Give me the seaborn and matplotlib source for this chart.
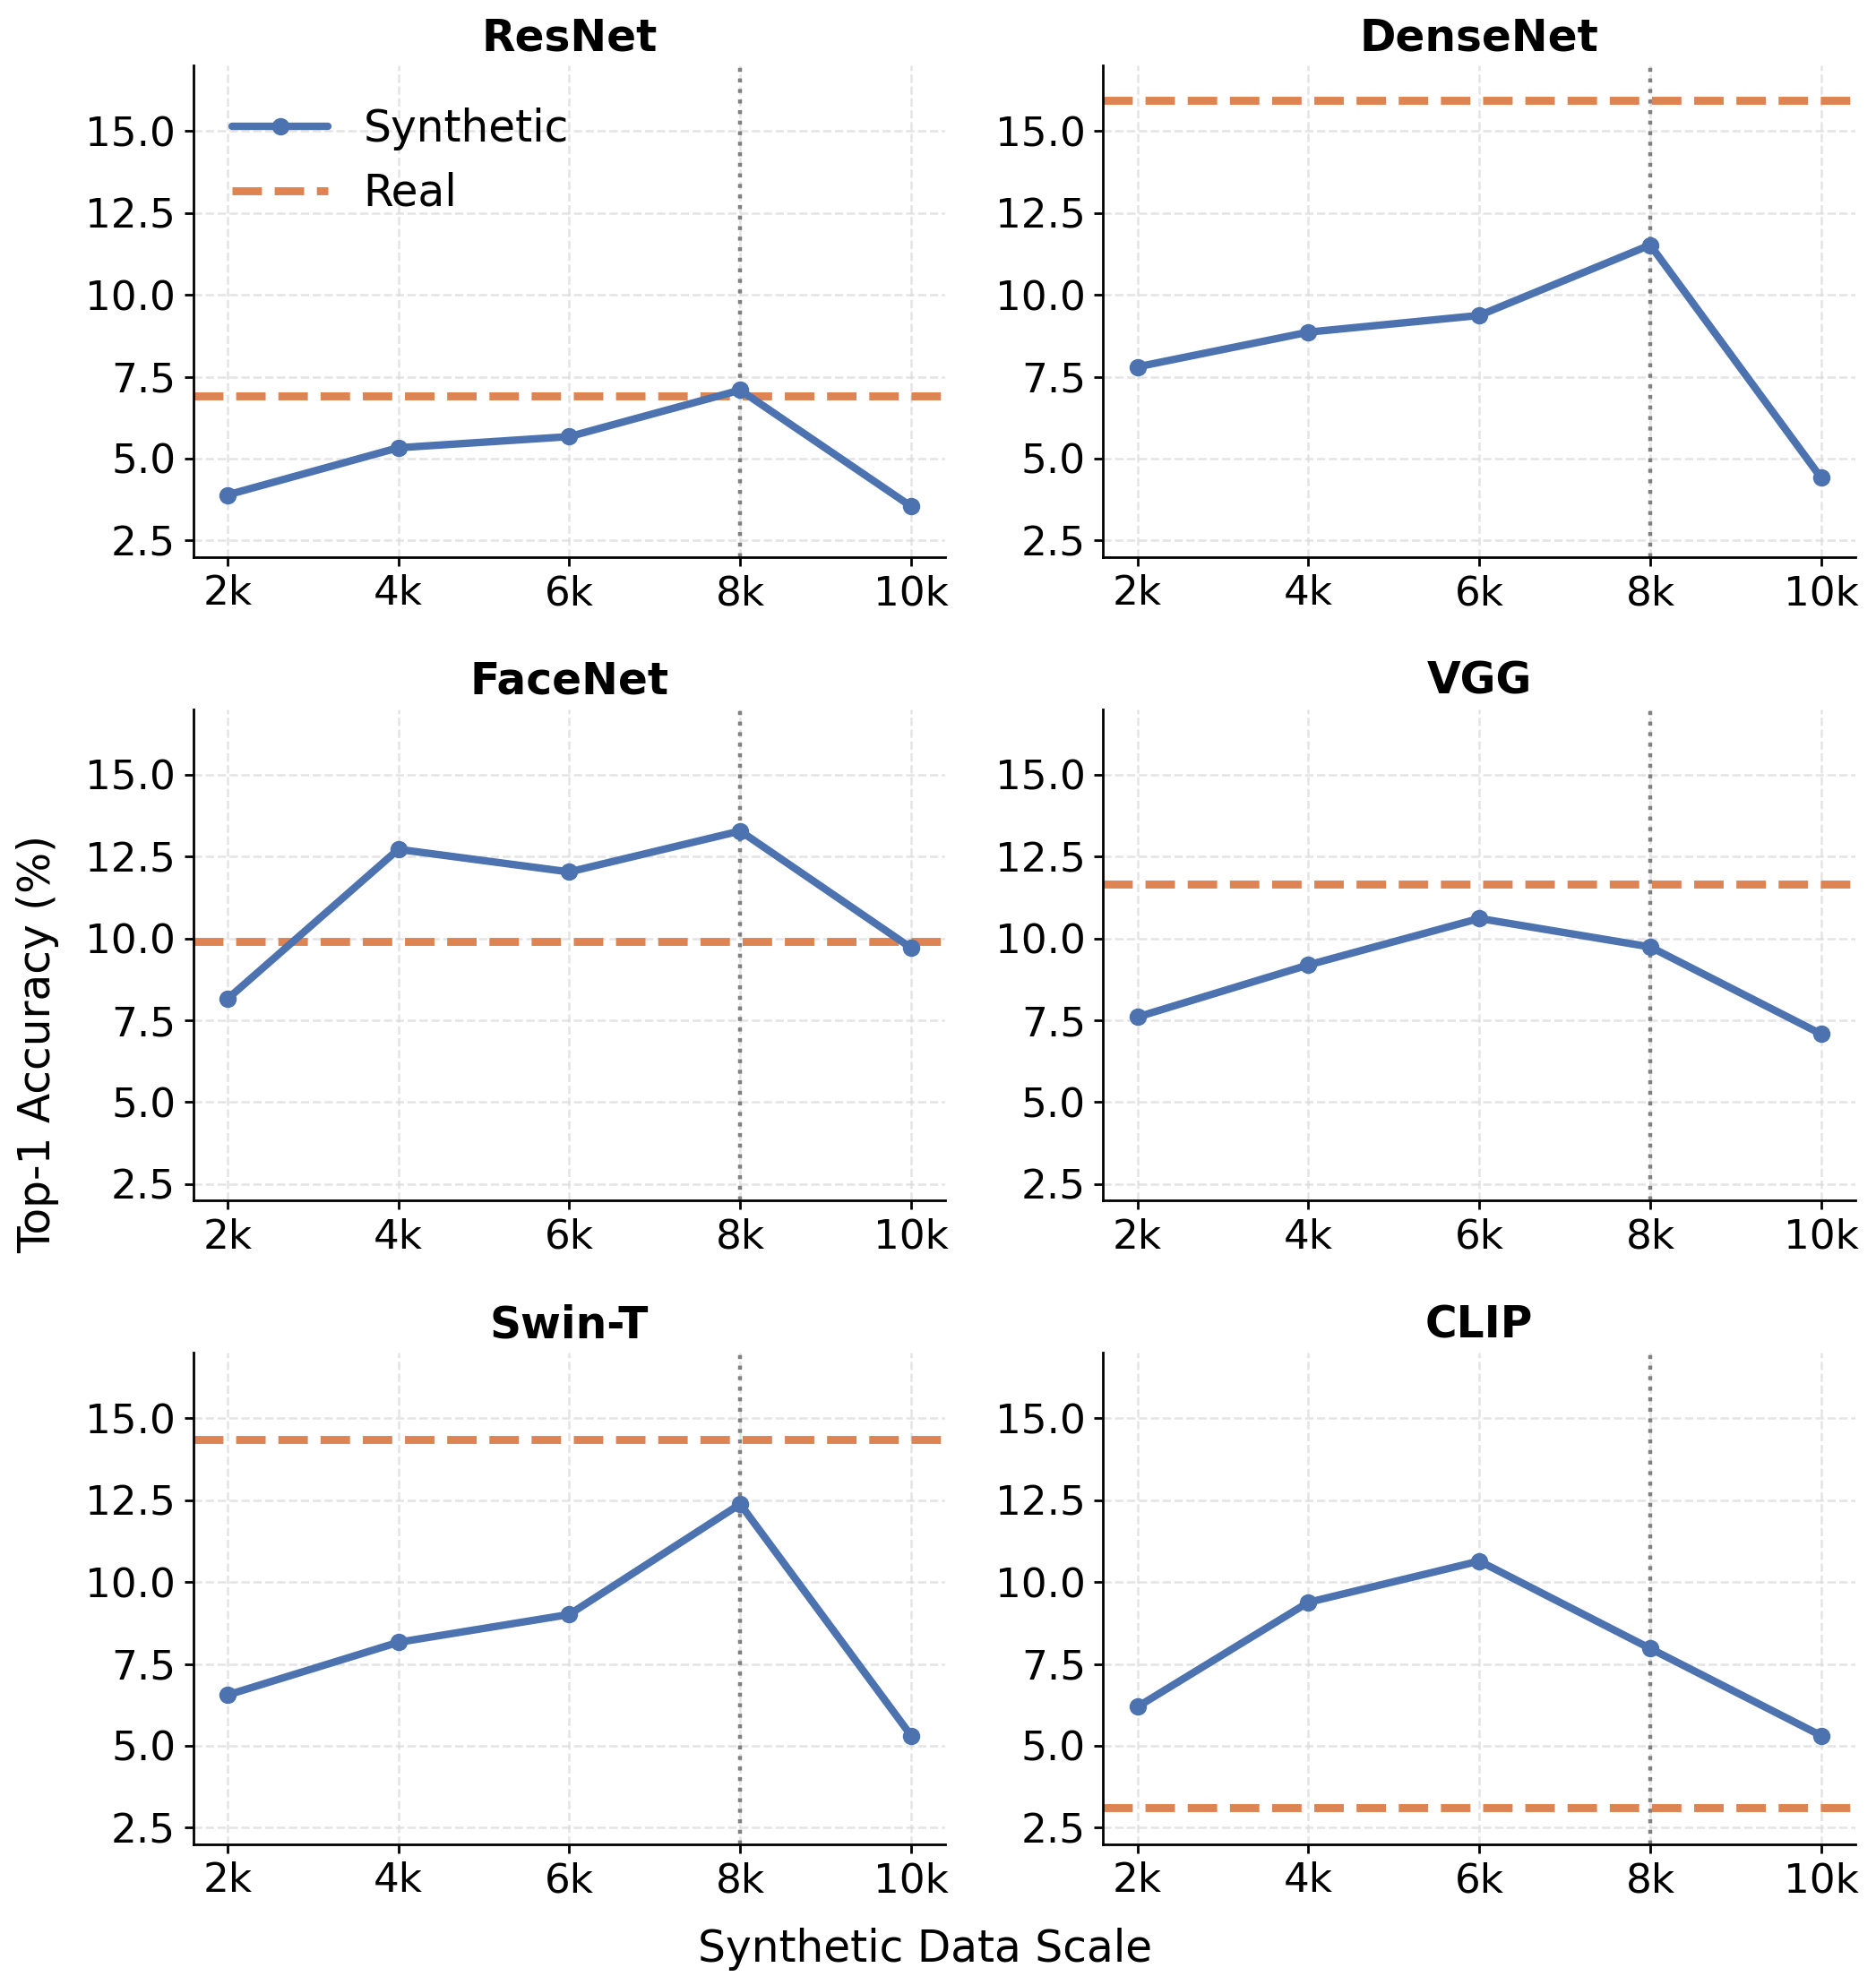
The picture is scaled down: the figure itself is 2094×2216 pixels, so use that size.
import numpy as np
import pandas as pd
import matplotlib
matplotlib.use("Agg")
import matplotlib.pyplot as plt
import seaborn as sns

models = ["ResNet", "DenseNet", "FaceNet", "VGG", "Swin-T", "CLIP"]
scales = [2, 4, 6, 8, 10]
scale_labels = ["2k", "4k", "6k", "8k", "10k"]

resnet = [3.89, 5.33, 5.67, 7.09, 3.54]
densenet = [7.80, 8.86, 9.37, 11.52, 4.41]
facenet = [8.15, 12.72, 12.03, 13.28, 9.71]
vgg = [7.60, 9.19, 10.61, 9.74, 7.08]
swin = [6.55, 8.16, 9.01, 12.38, 5.31]
clip = [6.19, 9.38, 10.64, 7.97, 5.31]
real = [6.90, 15.93, 9.90, 11.66, 14.35, 3.12]
best_scale = 8

synthetic = [resnet, densenet, facenet, vgg, swin, clip]

rows = []
for m, vals in zip(models, synthetic):
    for s, v in zip(scales, vals):
        rows.append({"model": m, "scale": s, "acc": v})
df = pd.DataFrame(rows)

sns.set_theme(style="ticks")
plt.rcParams['font.family'] = ['DejaVu Sans']
plt.rcParams.update({
    "text.color": "black", "axes.labelcolor": "black",
    "xtick.color": "black", "ytick.color": "black",
    "axes.edgecolor": "black", "axes.titlecolor": "black",
})

blue = "#4C72B0"
orange = "#DD8452"

fig, axes = plt.subplots(3, 2, figsize=(10.47, 11.08), dpi=200, sharey=False)
fig.subplots_adjust(left=0.103, right=0.989, top=0.967, bottom=0.071,
                    wspace=0.21, hspace=0.31)

for i, (ax, m) in enumerate(zip(axes.flat, models)):
    sub = df[df["model"] == m]
    ax.grid(True, linestyle="--", color="#d9d9d9", alpha=0.7, linewidth=0.9)
    ax.set_axisbelow(True)
    ax.axvline(best_scale, color="gray", linestyle=":", linewidth=1.6, zorder=1)
    sns.lineplot(data=sub, x="scale", y="acc", ax=ax, color=blue, marker="o",
                 markersize=7, markeredgewidth=0, linewidth=3, label="Synthetic",
                 zorder=3)
    ax.axhline(real[i], color=orange, linestyle="--", linewidth=3.2, label="Real", zorder=2)
    ax.set_xticks(scales)
    ax.set_xticklabels(scale_labels)
    ax.set_ylim(2.0, 17.0)
    ax.set_yticks([2.5, 5.0, 7.5, 10.0, 12.5, 15.0])
    ax.set_xlabel("")
    ax.set_ylabel("")
    ax.tick_params(labelsize=16.3, length=3.5, width=1.0)
    for sp in ax.spines.values():
        sp.set_linewidth(1.0)
    ax.set_title(m, fontsize=17.5, fontweight="bold")
    sns.despine(ax=ax)
    if i == 0:
        ax.legend(loc="upper left", frameon=False, fontsize=17.5, handlelength=2.2,
                  bbox_to_anchor=(0.0, 0.995))
    else:
        leg = ax.get_legend()
        if leg is not None:
            leg.remove()

fig.text(0.493, 0.018, "Synthetic Data Scale", ha="center", va="center", fontsize=17.5)
fig.text(0.020, 0.474, "Top-1 Accuracy (%)", ha="center", va="center",
         rotation=90, fontsize=17.5)

fig.savefig("out.png", dpi=200)
